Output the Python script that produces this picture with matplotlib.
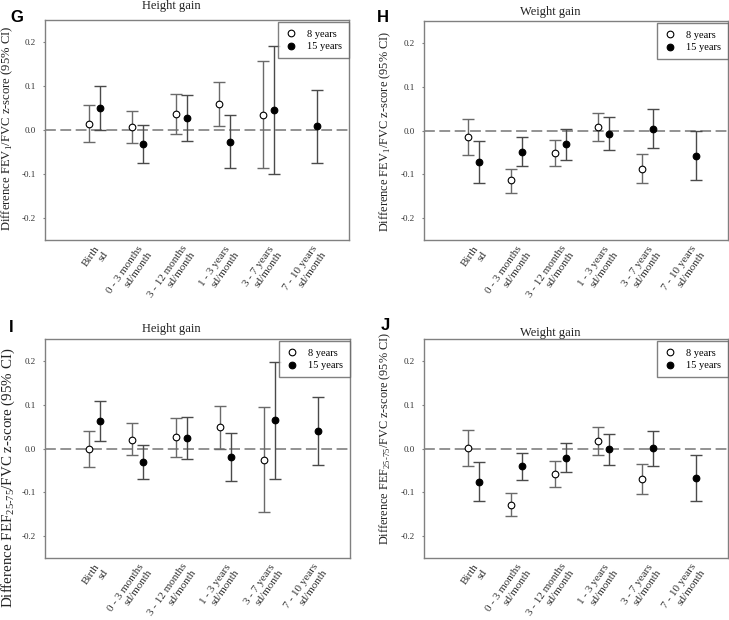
import numpy as np
import matplotlib.pyplot as plt

plt.rcParams['font.family'] = ['Liberation Serif', 'DejaVu Serif']
plt.rcParams['mathtext.fontset'] = 'custom'
plt.rcParams['mathtext.rm'] = 'Liberation Serif'

categories = ['Birth\nsd', '0 - 3 months\nsd/month', '3 - 12 months\nsd/month',
              '1 - 3 years\nsd/month', '3 - 7 years\nsd/month', '7 - 10 years\nsd/month']

# panel G: FEV1/FVC, height gain (8 years has no 7-10 years estimate)
g8_mean = [0.014, 0.007, 0.036, 0.058, 0.034]
g8_lo = [-0.028, -0.030, -0.008, 0.008, -0.087]
g8_hi = [0.057, 0.043, 0.081, 0.109, 0.156]
g15_mean = [0.050, -0.032, 0.027, -0.027, 0.045, 0.009]
g15_lo = [0.000, -0.074, -0.025, -0.086, -0.099, -0.075]
g15_hi = [0.100, 0.011, 0.080, 0.034, 0.191, 0.092]

# panel H: FEV1/FVC, weight gain
h8_mean = [-0.014, -0.114, -0.052, 0.008, -0.088]
h8_lo = [-0.056, -0.142, -0.081, -0.023, -0.121]
h8_hi = [0.027, -0.087, -0.021, 0.039, -0.054]
h15_mean = [-0.072, -0.048, -0.031, -0.007, 0.004, -0.058]
h15_lo = [-0.120, -0.080, -0.068, -0.045, -0.039, -0.114]
h15_hi = [-0.023, -0.014, 0.004, 0.031, 0.048, -0.002]

# panel I: FEF25-75/FVC, height gain
i8_mean = [-0.002, 0.020, 0.027, 0.048, -0.026]
i8_lo = [-0.042, -0.014, -0.019, 0.000, -0.146]
i8_hi = [0.039, 0.058, 0.070, 0.098, 0.094]
i15_mean = [0.063, -0.030, 0.024, -0.020, 0.064, 0.040]
i15_lo = [0.017, -0.070, -0.025, -0.074, -0.070, -0.037]
i15_hi = [0.109, 0.008, 0.072, 0.036, 0.198, 0.117]

# panel J: FEF25-75/FVC, weight gain
j8_mean = [0.001, -0.129, -0.058, 0.018, -0.069]
j8_lo = [-0.039, -0.155, -0.087, -0.014, -0.103]
j8_hi = [0.042, -0.102, -0.029, 0.049, -0.036]
j15_mean = [-0.077, -0.041, -0.021, -0.002, 0.002, -0.067]
j15_lo = [-0.121, -0.071, -0.054, -0.038, -0.039, -0.119]
j15_hi = [-0.031, -0.010, 0.012, 0.033, 0.041, -0.015]

fev_label = 'Difference FEV$_1$/FVC z-score (95% CI)'
fef_label = 'Difference FEF$_{25\u201075}$/FVC z-score (95% CI)'

W, H = 729, 620
fig = plt.figure(figsize=(W / 100, H / 100), dpi=100)


def add_panel(box, letter, letter_xy, title, title_pad, ylabel, ylabel_xy, ylabel_size,
              m8, lo8, hi8, m15, lo15, hi15):
    l, t, r, b = box
    ax = fig.add_axes([l / W, 1 - b / H, (r - l) / W, (b - t) / H])
    x = np.arange(1, len(categories) + 1)
    off = 0.126
    x8 = x[:len(m8)] - off
    x15 = x + off
    m8, lo8, hi8 = map(np.array, (m8, lo8, hi8))
    m15, lo15, hi15 = map(np.array, (m15, lo15, hi15))

    ax.axhline(0, color='#8a8a8a', lw=1.3, dashes=(6, 2.5), zorder=1)
    ax.errorbar(x8, m8, yerr=[m8 - lo8, hi8 - m8], fmt='none', ecolor='#6a6a6a',
                elinewidth=1, capsize=4, capthick=1, zorder=2)
    ax.errorbar(x15, m15, yerr=[m15 - lo15, hi15 - m15], fmt='none', ecolor='#4a4a4a',
                elinewidth=1, capsize=4, capthick=1, zorder=2)
    ax.plot(x8, m8, 'o', ms=4.8, mfc='white', mec='black', mew=0.8, zorder=3, label='8 years')
    ax.plot(x15, m15, 'o', ms=4.8, mfc='black', mec='black', mew=0.8, zorder=3, label='15 years')

    ax.set_xlim(-0.126, 6.853)
    ax.set_ylim(-0.25, 0.25)
    ax.set_yticks([-0.2, -0.1, 0.0, 0.1, 0.2])
    ax.set_yticklabels(['-0.2', '-0.1', '0.0', '0.1', '0.2'])
    ax.set_xticks(x)
    ax.set_xticklabels(categories, rotation=55, ha='right', va='top',
                       rotation_mode='anchor', multialignment='right')
    ax.tick_params(axis='y', length=1.8, width=0.8, color='#808080', pad=5,
                   labelsize=6.5, labelcolor='#333333')
    ax.tick_params(axis='x', length=0, pad=3, labelsize=8, labelcolor='#333333')
    for s in ax.spines.values():
        s.set_color('#808080')
        s.set_linewidth(1)

    ax.set_title(title, x=0.415, fontsize=9, pad=title_pad, color='#222222')

    leg = ax.legend(loc='upper right', bbox_to_anchor=(1.0, 0.99), borderaxespad=0,
                    fontsize=7.5, fancybox=False, handletextpad=0.9, borderpad=0.7,
                    labelspacing=0.3, handlelength=1.2)
    leg.get_frame().set_edgecolor('#606060')
    leg.get_frame().set_linewidth(1)

    fig.text(ylabel_xy[0] / W, 1 - ylabel_xy[1] / H, ylabel, rotation=90,
             fontsize=ylabel_size, ha='center', va='center', color='#222222')
    fig.text(letter_xy[0] / W, 1 - letter_xy[1] / H, letter, family='Liberation Sans',
             fontweight='bold', fontsize=12, ha='left', va='center')
    return ax


add_panel((45, 20, 349, 240), 'G', (10, 18), 'Height gain', 8,
          fev_label, (7, 128), 9.1,
          g8_mean, g8_lo, g8_hi, g15_mean, g15_lo, g15_hi)
add_panel((424, 21, 728, 240), 'H', (377, 17), 'Weight gain', 4,
          fev_label, (385, 131), 8.9,
          h8_mean, h8_lo, h8_hi, h15_mean, h15_lo, h15_hi)
add_panel((45, 339, 350, 558), 'I', (9, 328), 'Height gain', 5,
          fef_label, (8, 478), 10.8,
          i8_mean, i8_lo, i8_hi, i15_mean, i15_lo, i15_hi)
add_panel((424, 339, 728, 558), 'J', (381, 325), 'Weight gain', 2,
          fef_label, (385, 438), 8.8,
          j8_mean, j8_lo, j8_hi, j15_mean, j15_lo, j15_hi)

fig.savefig('out.png', dpi=100)
